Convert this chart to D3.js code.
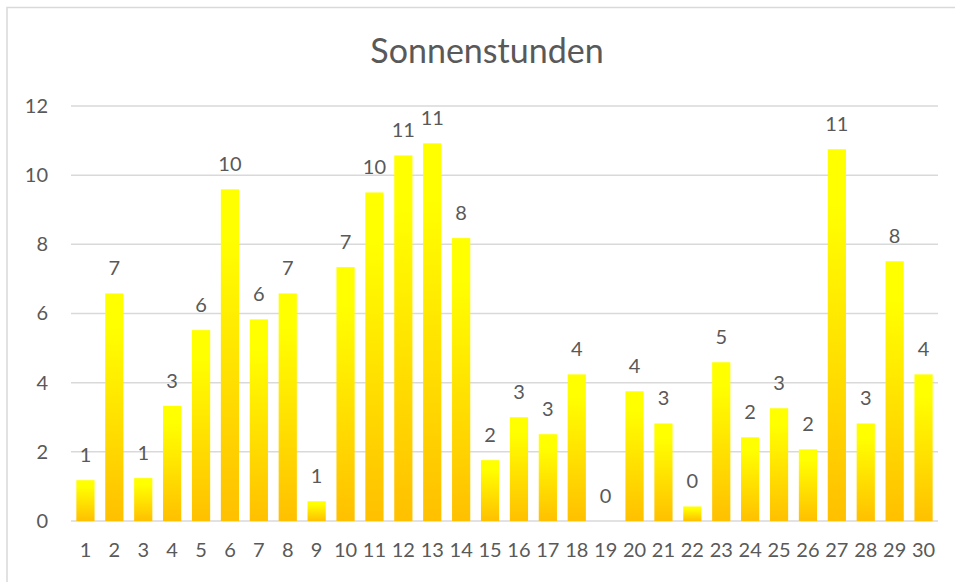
<!DOCTYPE html>
<html>
<head>
<meta charset="utf-8">
<script src="https://cdn.jsdelivr.net/npm/d3@7"></script>
<style>
  body { margin: 0; background: #fff; }
  svg text { font-family: Lato, "Open Sans", sans-serif; fill: #595959; }
</style>
</head>
<body>
<div id="chart"></div>
<script>
// Tage und Sonnenstunden
const days = d3.range(1, 31).map(String);
const hours = [1.18, 6.58, 1.24, 3.33, 5.52, 9.59, 5.83, 6.58, 0.57, 7.34,
               9.5, 10.57, 10.92, 8.18, 1.76, 3.0, 2.51, 4.24, 0, 3.75,
               2.82, 0.42, 4.59, 2.42, 3.26, 2.07, 10.75, 2.82, 7.51, 4.24];
const yTicks = [0, 2, 4, 6, 8, 10, 12];
const title = "Sonnenstunden";

const width = 955, height = 582;
const margin = { top: 106, right: 17, bottom: 61, left: 71 };

const svg = d3.select("#chart")
  .append("svg")
  .attr("width", width)
  .attr("height", height);

// Rahmen (nur oben und links sichtbar)
svg.append("path")
  .attr("d", `M7,${height} V7.5 H${width}`)
  .attr("fill", "none")
  .attr("stroke", "#d9d9d9")
  .attr("stroke-width", 1.5);

const defs = svg.append("defs");
const grad = defs.append("linearGradient")
  .attr("id", "sun")
  .attr("x1", 0).attr("y1", 0)
  .attr("x2", 0).attr("y2", 1);
grad.append("stop").attr("offset", "0%").attr("stop-color", "#ffff00");
grad.append("stop").attr("offset", "15%").attr("stop-color", "#ffff00");
grad.append("stop").attr("offset", "100%").attr("stop-color", "#ffc000");

const x = d3.scaleBand()
  .domain(days)
  .range([margin.left, width - margin.right])
  .paddingInner(0.37)
  .paddingOuter(0.185);

const y = d3.scaleLinear()
  .domain([0, 12])
  .range([height - margin.bottom, margin.top]);

// Gitterlinien
svg.append("g")
  .selectAll("line")
  .data(yTicks)
  .enter()
  .append("line")
  .attr("x1", margin.left)
  .attr("x2", width - margin.right)
  .attr("y1", d => y(d))
  .attr("y2", d => y(d))
  .attr("stroke", "#d9d9d9")
  .attr("stroke-width", 1.5);

// y-Achse
const yAxis = svg.append("g")
  .attr("transform", `translate(${margin.left - 23},0)`)
  .call(d3.axisLeft(y).tickValues(yTicks).tickSize(0).tickPadding(0));
yAxis.select(".domain").remove();
yAxis.selectAll("text")
  .attr("font-size", "20px")
  .style("font-family", "Lato, 'Open Sans', sans-serif")
  .attr("fill", "#595959");

// x-Achse
const xAxis = svg.append("g")
  .attr("transform", `translate(0,${height - margin.bottom})`)
  .call(d3.axisBottom(x).tickSize(0).tickPadding(22));
xAxis.select(".domain").remove();
xAxis.selectAll("text")
  .attr("font-size", "20px")
  .style("font-family", "Lato, 'Open Sans', sans-serif")
  .attr("fill", "#595959");

// Balken
svg.append("g")
  .selectAll("rect")
  .data(hours)
  .enter()
  .append("rect")
  .attr("x", (d, i) => x(days[i]))
  .attr("y", d => y(d))
  .attr("width", x.bandwidth())
  .attr("height", d => y(0) - y(d))
  .attr("fill", "url(#sun)");

// Datenbeschriftung
svg.append("g")
  .selectAll("text")
  .data(hours)
  .enter()
  .append("text")
  .attr("x", (d, i) => x(days[i]) + x.bandwidth() / 2)
  .attr("y", d => y(d) - 18)
  .attr("text-anchor", "middle")
  .attr("font-size", "20px")
  .text(d => Math.round(d));

svg.append("text")
  .attr("x", 487)
  .attr("y", 63)
  .attr("text-anchor", "middle")
  .attr("font-size", "34px")
  .text(title);
</script>
</body>
</html>
